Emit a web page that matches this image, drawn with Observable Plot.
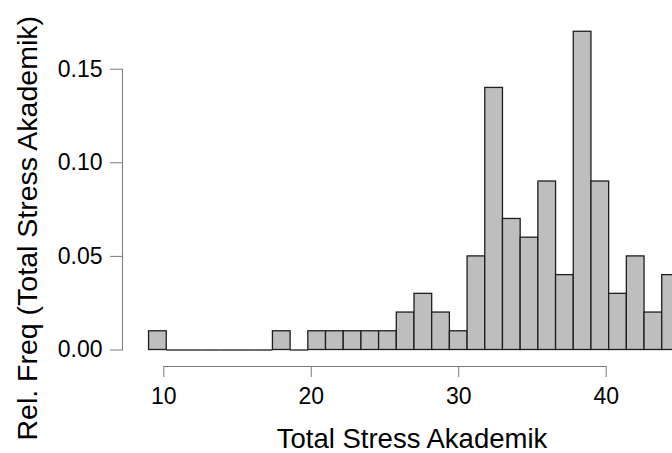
<!DOCTYPE html>
<html>
<head>
<meta charset="utf-8">
<script src="https://cdn.jsdelivr.net/npm/d3@7"></script>
<script src="https://cdn.jsdelivr.net/npm/@observablehq/plot@0.6"></script>
<style>
  html, body { margin: 0; padding: 0; background: white; overflow: hidden; }
  #chart svg { display: block; }
</style>
</head>
<body>
<div id="chart"></div>
<script>
// Histogram bin edges (width 1.2) and relative frequencies
const breaks = [9, 10.2, 11.4, 12.6, 13.8, 15, 16.2, 17.4, 18.6, 19.8, 21, 22.2, 23.4, 24.6, 25.8, 27,
                28.2, 29.4, 30.6, 31.8, 33, 34.2, 35.4, 36.6, 37.8, 39, 40.2, 41.4, 42.6, 43.8, 45];
const relFreq = [0.01, 0, 0, 0, 0, 0, 0, 0.01, 0, 0.01, 0.01, 0.01, 0.01, 0.01, 0.02, 0.03,
                 0.02, 0.01, 0.05, 0.14, 0.07, 0.06, 0.09, 0.04, 0.17, 0.09, 0.03, 0.05, 0.02, 0.04];
const xTicks = [10, 20, 30, 40];
const yTicks = [0, 0.05, 0.10, 0.15];
const xLabel = "Total Stress Akademik";
const yLabel = "Rel. Freq (Total Stress Akademik)";

const bins = relFreq.map((v, i) => ({x1: breaks[i], x2: breaks[i + 1], y: v}));

const font = "'Liberation Sans', Arial, Helvetica, sans-serif";
const axisColor = "#7a7a7a";

const chart = Plot.plot({
  width: 672,
  height: 453,
  marginLeft: 122,
  marginRight: 0,
  marginTop: 68.7,
  marginBottom: 103.5,
  x: {domain: [10, 40], range: [163.3, 605.7]},
  y: {domain: [0, 0.15]},
  style: {fontFamily: font, fontSize: "23px", background: "white", color: "black"},
  marks: [
    Plot.rectY(bins, {x1: "x1", x2: "x2", y: "y", fill: "#bebebe", stroke: "#1e1e1e", strokeWidth: 1.3}),
    Plot.ruleY(bins.filter(d => d.y === 0), {x1: "x1", x2: "x2", y: 0, stroke: "#1e1e1e", strokeWidth: 1.3}),
    Plot.frame({anchor: "left", stroke: axisColor}),
    Plot.axisY(yTicks, {tickFormat: d3.format(".2f"), tickSize: 12, tickPadding: 8, stroke: axisColor, label: null, fontSize: 23}),
    Plot.axisX(xTicks, {tickFormat: d3.format("d"), tickSize: 11, tickPadding: 10, dy: 16.5, stroke: axisColor, label: null, fontSize: 23}),
    Plot.ruleY([0], {x1: xTicks[0], x2: xTicks[xTicks.length - 1], dy: 16.5, stroke: axisColor}),
    Plot.text([xLabel], {frameAnchor: "bottom", dx: 14.5, dy: 97.5, lineAnchor: "bottom", fontSize: 27.5}),
    Plot.text([yLabel], {frameAnchor: "bottom-left", rotate: -90, textAnchor: "start", lineAnchor: "bottom", dx: -86, dy: 90.5, fontSize: 28.5})
  ]
});
document.getElementById("chart").appendChild(chart);
</script>
</body>
</html>
